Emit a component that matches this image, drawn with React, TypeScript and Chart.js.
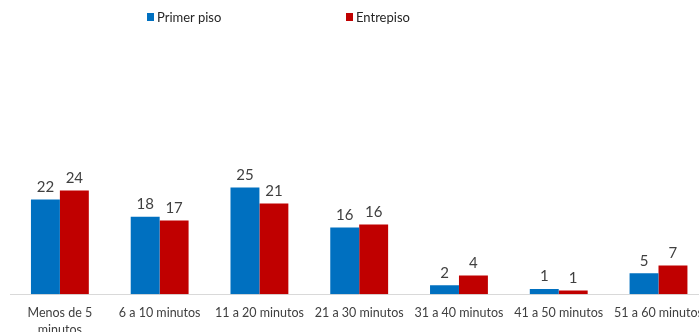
import React, { useEffect, useRef } from "react";
import { Chart, registerables } from "chart.js";

Chart.register(...registerables);

const categories: (string | string[])[] = [
  ["Menos de 5", "minutos"],
  "6 a 10 minutos",
  "11 a 20 minutos",
  "21 a 30 minutos",
  "31 a 40 minutos",
  "41 a 50 minutos",
  "51 a 60 minutos",
];
const primerPiso = [22.1, 18.1, 24.9, 15.6, 2.1, 1.2, 4.9];
const entrepiso = [24.2, 17.2, 21.2, 16.3, 4.4, 0.9, 6.7];
const seriesNames = ["Primer piso", "Entrepiso"];
const seriesColors = ["#0070C0", "#C00000"];

const FONT = "Lato, 'Liberation Sans', sans-serif";

const valueLabels = {
  id: "valueLabels",
  afterDatasetsDraw(chart: any) {
    const ctx = chart.ctx;
    ctx.save();
    ctx.font = `15px ${FONT}`;
    ctx.fillStyle = "#404040";
    ctx.textAlign = "center";
    ctx.textBaseline = "bottom";
    chart.data.datasets.forEach((ds: any, i: number) => {
      const meta = chart.getDatasetMeta(i);
      meta.data.forEach((bar: any, j: number) => {
        ctx.fillText(String(Math.round(ds.data[j])), bar.x, bar.y - 5);
      });
    });
    ctx.restore();
  },
};

export default function App() {
  const ref = useRef<HTMLCanvasElement | null>(null);
  useEffect(() => {
    if (!ref.current) return;
    const chart = new Chart(ref.current, {
      type: "bar",
      data: {
        labels: categories,
        datasets: [
          { label: seriesNames[0], data: primerPiso, backgroundColor: seriesColors[0] },
          { label: seriesNames[1], data: entrepiso, backgroundColor: seriesColors[1] },
        ],
      },
      options: {
        animation: false,
        responsive: true,
        maintainAspectRatio: false,
        layout: { padding: { left: 10, right: 0, top: 0, bottom: 0 } },
        plugins: { legend: { display: false }, tooltip: { enabled: false } },
        datasets: { bar: { categoryPercentage: 0.58, barPercentage: 1 } },
        scales: {
          x: {
            grid: { display: false, drawTicks: false },
            border: { display: true, color: "#D9D9D9", width: 1 },
            ticks: {
              padding: 10,
              color: "#404040",
              font: { family: FONT, size: 12.5, lineHeight: 1.35 },
              maxRotation: 0,
              autoSkip: false,
            },
          },
          y: { display: false, min: 0, max: 68.7 },
        },
      },
      plugins: [valueLabels],
    });
    return () => chart.destroy();
  }, []);

  const legendItem = (left: number, i: number) => (
    <div
      style={{
        position: "absolute",
        left,
        top: 9,
        display: "flex",
        alignItems: "center",
        fontFamily: FONT,
        fontSize: 13,
        color: "#262626",
        whiteSpace: "nowrap",
      }}
    >
      <span style={{ display: "inline-block", width: 7, height: 8, background: seriesColors[i], marginRight: 3 }} />
      {seriesNames[i]}
    </div>
  );

  return (
    <div
      style={{
        position: "fixed",
        left: 0,
        top: 0,
        width: 699,
        height: 332,
        overflow: "hidden",
        background: "#fff",
      }}
    >
      <div style={{ position: "absolute", left: 0, top: 0, width: 713, height: 348 }}>
        <canvas ref={ref} />
      </div>
      {legendItem(147, 0)}
      {legendItem(346, 1)}
    </div>
  );
}
